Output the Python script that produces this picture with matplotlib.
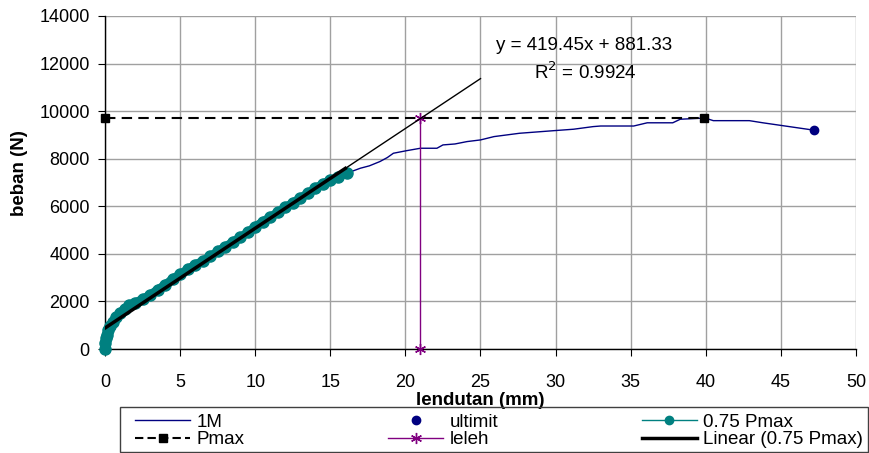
import matplotlib
matplotlib.use("Agg")
import matplotlib.pyplot as plt
from matplotlib.lines import Line2D
from matplotlib.patches import Rectangle

plt.rcParams['font.family'] = ['Liberation Sans', 'DejaVu Sans']

# 0.75 Pmax series (teal, dense markers)
teal_x = [0, 0.02, 0.05, 0.1, 0.2, 0.3, 0.5, 0.7, 1.0, 1.3, 1.6, 2.0, 2.5, 3.0, 3.5,
          4.0, 4.5, 5.0, 5.5, 6.0, 6.5, 7.0, 7.5, 8.0, 8.5, 9.0, 9.5, 10.0, 10.5, 11.0,
          11.5, 12.0, 12.5, 13.0, 13.5, 14.0, 14.5, 15.0, 15.5, 16.1]
teal_y = [0, 250, 450, 600, 800, 950, 1150, 1350, 1500, 1700, 1850, 1950, 2100, 2280, 2500,
          2700, 2950, 3150, 3350, 3550, 3700, 3900, 4100, 4300, 4500, 4700, 4900, 5150, 5350, 5550,
          5750, 5950, 6150, 6350, 6550, 6750, 6950, 7100, 7250, 7390]

# 1M curve continuation beyond the 0.75 Pmax portion
m_x = [16.1, 17.0, 17.6, 18.3, 18.8, 19.2, 20.1, 21.0, 22.1, 22.5, 23.3, 24.1, 25.0, 25.9,
       27.6, 29.9, 31.2, 32.5, 33.0, 35.2, 36.1, 37.8, 38.3, 39.6, 39.9, 40.5, 42.9, 43.8, 47.2]
m_y = [7390, 7600, 7700, 7880, 8050, 8230, 8340, 8440, 8440, 8580, 8620, 8720, 8790, 8930,
       9070, 9180, 9240, 9350, 9375, 9375, 9510, 9510, 9660, 9700, 9720, 9600, 9600, 9510, 9200]

ult_x = [47.2]
ult_y = [9200]

pmax_x = [0, 39.9]
pmax_y = [9720, 9720]

leleh_x = [21.0, 21.0]
leleh_y = [0, 9720]

slope, intercept = 419.45, 881.33
trend_x_thin = [0, 25]
trend_x_thick = [0, 16]

W, H = 870, 453
fig = plt.figure(figsize=(W / 100, H / 100), dpi=100)
ax = fig.add_axes([105 / W, (H - 349) / H, 751 / W, 333 / H])

navy = '#000080'
teal = '#008080'
purple = '#800080'
star = (6, 2, 0)

ax.plot(teal_x + m_x[1:], teal_y + m_y[1:], color=navy, lw=1.0, zorder=3)
ax.plot(teal_x, teal_y, color=teal, lw=6, solid_capstyle='round', marker='o', ms=8,
        mec=teal, mfc=teal, zorder=4, clip_on=False)
ax.plot(ult_x, ult_y, ls='none', marker='o', ms=6, color=navy, zorder=5, clip_on=False)
ax.plot(pmax_x, pmax_y, color='black', ls=(0, (5, 3)), lw=1.5, marker='s', ms=6, zorder=5, clip_on=False)
ax.plot(leleh_x, leleh_y, color=purple, lw=1.0, marker=star, ms=8, mew=1.0, zorder=5, clip_on=False)
ax.plot(trend_x_thin, [slope * v + intercept for v in trend_x_thin], color='black', lw=1.0, zorder=6)
ax.plot(trend_x_thick, [slope * v + intercept for v in trend_x_thick], color='black', lw=2.5, zorder=6)

ax.set_xlim(0, 50)
ax.set_ylim(0, 14000)
ax.set_xticks(range(0, 51, 5))
ax.set_yticks(range(0, 14001, 2000))
ax.grid(True, color='#a0a0a0', lw=1.0)
ax.set_axisbelow(True)
for s in ['top', 'right']:
    ax.spines[s].set_visible(False)
for s in ['left', 'bottom']:
    ax.spines[s].set_color('black')
    ax.spines[s].set_linewidth(1.0)
ax.tick_params(axis='both', labelsize=13, length=5, direction='out', color='black')
ax.tick_params(axis='x', pad=13)
ax.tick_params(axis='y', pad=6)
ax.set_xlabel('lendutan (mm)', fontsize=13.5, fontweight='bold')
ax.xaxis.set_label_coords(0.5, -0.13)
ax.set_ylabel('beban (N)', fontsize=13.5, fontweight='bold')
ax.yaxis.set_label_coords(-0.103, 0.527)

ax.text(26.0, 12780, 'y = 419.45x + 881.33', fontsize=13.5, ha='left', va='center')
ax.text(31.96, 11650, 'R$^2$ = 0.9924', fontsize=13.5, ha='center', va='center')

# legend frame
fig.patches.append(Rectangle((120 / W, 1 / H), 748 / W, 45 / H, transform=fig.transFigure,
                             fill=False, edgecolor='#404040', lw=1.0, zorder=1))

handles = [
    Line2D([], [], color=navy, lw=1.0),
    Line2D([], [], color='black', ls=(0, (4, 2)), lw=1.5, marker='s', ms=6),
    Line2D([], [], color=navy, ls='none', marker='o', ms=6),
    Line2D([], [], color=purple, lw=1.0, marker=star, ms=8),
    Line2D([], [], color=teal, lw=1.0, marker='o', ms=6),
    Line2D([], [], color='black', lw=2.5),
]
labels = ['1M', 'Pmax', 'ultimit', 'leleh', '0.75 Pmax', 'Linear (0.75 Pmax)']
leg = fig.legend(handles, labels, ncol=3, loc='center',
                 bbox_to_anchor=(135 / W, (H - 451) / H, 728 / W, 40 / H), mode='expand',
                 borderaxespad=0.0, frameon=False,
                 fontsize=13.5, borderpad=0.0, labelspacing=0.0, handlelength=2.95,
                 handletextpad=0.32, columnspacing=1.0)

fig.savefig('out.png', dpi=100)
